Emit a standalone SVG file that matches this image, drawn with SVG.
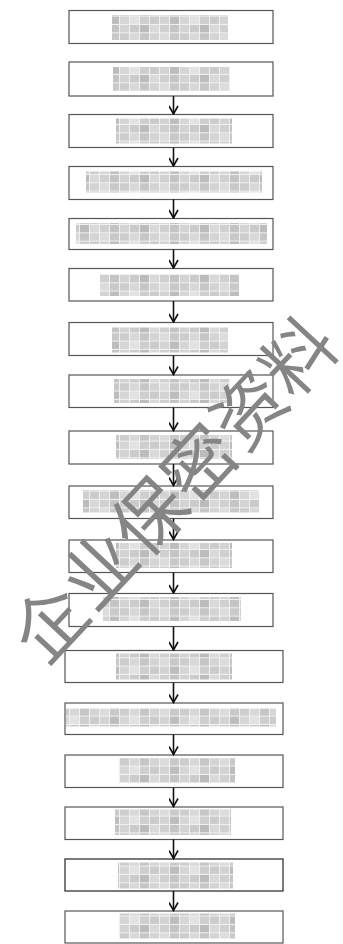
<svg xmlns="http://www.w3.org/2000/svg" width="343" height="944" viewBox="0 0 343 944">
<style>
.box{fill:#fff;stroke:#555;stroke-width:1.2}
.dark{stroke:#222}
.mz{fill:url(#mz)}
.arr{stroke:#111;stroke-width:1.6;fill:none}
.wm{font-family:"Noto Sans CJK SC","Noto Sans CJK JP",sans-serif;font-size:72px;fill:#858585;letter-spacing:1px}
</style>
<defs>
<pattern id="mz" patternUnits="userSpaceOnUse" width="60" height="25">
<rect width="60" height="25" fill="#f0f0f0"/>
<rect x="0" y="0" width="9" height="7.3" fill="#d3d3d3"/>
<rect x="10" y="0" width="9" height="7.3" fill="#cbcbcb"/>
<rect x="20" y="0" width="9" height="7.3" fill="#bcbcbc"/>
<rect x="30" y="0" width="9" height="7.3" fill="#d9d9d9"/>
<rect x="40" y="0" width="9" height="7.3" fill="#d0d0d0"/>
<rect x="50" y="0" width="9" height="7.3" fill="#c4c4c4"/>
<rect x="0" y="8.3" width="9" height="7.3" fill="#cdcdcd"/>
<rect x="10" y="8.3" width="9" height="7.3" fill="#d8d8d8"/>
<rect x="20" y="8.3" width="9" height="7.3" fill="#c6c6c6"/>
<rect x="30" y="8.3" width="9" height="7.3" fill="#d4d4d4"/>
<rect x="40" y="8.3" width="9" height="7.3" fill="#dcdcdc"/>
<rect x="50" y="8.3" width="9" height="7.3" fill="#c9c9c9"/>
<rect x="0" y="16.6" width="9" height="7.3" fill="#d6d6d6"/>
<rect x="10" y="16.6" width="9" height="7.3" fill="#e2e2e2"/>
<rect x="20" y="16.6" width="9" height="7.3" fill="#cecece"/>
<rect x="30" y="16.6" width="9" height="7.3" fill="#cbcbcb"/>
<rect x="40" y="16.6" width="9" height="7.3" fill="#d3d3d3"/>
<rect x="50" y="16.6" width="9" height="7.3" fill="#bdbdbd"/>
</pattern>
<marker id="ah" viewBox="0 0 10 10" refX="9" refY="5" markerWidth="10" markerHeight="10" markerUnits="userSpaceOnUse" orient="auto">
<path d="M1,0.5 L9,5 L1,9.5" fill="none" stroke="#111" stroke-width="1.6"/>
</marker>
</defs>
<rect width="343" height="944" fill="#fff"/>
<g id="nodes">
<g id="n1"><rect class="box" x="69" y="10.5" width="204" height="33"/><rect class="mz" x="112" y="15" width="116" height="25"/></g>
<g id="n2"><rect class="box" x="69" y="62" width="204" height="34"/><rect class="mz" x="113" y="67" width="117" height="24"/></g>
<g id="n3"><rect class="box" x="69" y="114.5" width="204" height="33"/><rect class="mz" x="116" y="118.5" width="116" height="25"/></g>
<g id="n4"><rect class="box" x="69" y="166.5" width="204" height="33"/><rect class="mz" x="86" y="171.5" width="176" height="21"/></g>
<g id="n5"><rect class="box" x="69" y="218.5" width="204" height="31"/><rect class="mz" x="76" y="223" width="191" height="21"/></g>
<g id="n6"><rect class="box" x="69" y="268.5" width="204" height="32.5"/><rect class="mz" x="100" y="274" width="139" height="22"/></g>
<g id="n7"><rect class="box" x="69" y="322.5" width="204" height="33"/><rect class="mz" x="112" y="327.5" width="116" height="25"/></g>
<g id="n8"><rect class="box" x="69" y="375" width="204" height="32.5"/><rect class="mz" x="114" y="379" width="116" height="24"/></g>
<g id="n9"><rect class="box" x="69" y="431" width="204" height="33"/><rect class="mz" x="116" y="435" width="116" height="24"/></g>
<g id="n10"><rect class="box" x="69" y="486" width="204" height="32.5"/><rect class="mz" x="83" y="490" width="176" height="22.5"/></g>
<g id="n11"><rect class="box" x="69" y="540" width="204" height="32.5"/><rect class="mz" x="116" y="543" width="116" height="25"/></g>
<g id="n12"><rect class="box" x="69" y="593.5" width="204" height="33"/><rect class="mz" x="103" y="597" width="138" height="24"/></g>
<g id="n13"><rect class="box" x="65" y="650.5" width="218" height="32"/><rect class="mz" x="116" y="653.5" width="116" height="26"/></g>
<g id="n14"><rect class="box" x="65" y="703" width="218" height="31.5"/><rect class="mz" x="66" y="708.5" width="210" height="18"/></g>
<g id="n15"><rect class="box" x="65" y="755" width="218" height="32.5"/><rect class="mz" x="119" y="758" width="116" height="25"/></g>
<g id="n16"><rect class="box" x="65" y="807" width="218" height="32.5"/><rect class="mz" x="115" y="809.5" width="116" height="25.5"/></g>
<g id="n17"><rect class="box dark" x="65" y="859" width="218" height="32"/><rect class="mz" x="118" y="862.5" width="115" height="26"/></g>
<g id="n18"><rect class="box" x="65" y="911" width="218" height="32"/><rect class="mz" x="119" y="913.5" width="116" height="25"/></g>
</g>
<g id="connectors">
<line class="arr" x1="173.5" y1="96" x2="173.5" y2="114" marker-end="url(#ah)"/>
<line class="arr" x1="173.5" y1="147.5" x2="173.5" y2="166" marker-end="url(#ah)"/>
<line class="arr" x1="173.5" y1="199.5" x2="173.5" y2="218" marker-end="url(#ah)"/>
<line class="arr" x1="173.5" y1="249.5" x2="173.5" y2="268" marker-end="url(#ah)"/>
<line class="arr" x1="173.5" y1="301" x2="173.5" y2="322" marker-end="url(#ah)"/>
<line class="arr" x1="173.5" y1="355.5" x2="173.5" y2="374.5" marker-end="url(#ah)"/>
<line class="arr" x1="173.5" y1="407.5" x2="173.5" y2="430.5" marker-end="url(#ah)"/>
<line class="arr" x1="173.5" y1="464" x2="173.5" y2="485.5" marker-end="url(#ah)"/>
<line class="arr" x1="173.5" y1="518.5" x2="173.5" y2="539.5" marker-end="url(#ah)"/>
<line class="arr" x1="173.5" y1="572.5" x2="173.5" y2="593" marker-end="url(#ah)"/>
<line class="arr" x1="173.5" y1="626.5" x2="173.5" y2="650" marker-end="url(#ah)"/>
<line class="arr" x1="173.5" y1="682.5" x2="173.5" y2="702.5" marker-end="url(#ah)"/>
<line class="arr" x1="173.5" y1="734.5" x2="173.5" y2="754.5" marker-end="url(#ah)"/>
<line class="arr" x1="173.5" y1="787.5" x2="173.5" y2="806.5" marker-end="url(#ah)"/>
<line class="arr" x1="173.5" y1="839.5" x2="173.5" y2="858.5" marker-end="url(#ah)"/>
<line class="arr" x1="173.5" y1="891" x2="173.5" y2="910.5" marker-end="url(#ah)"/>
</g>
<g id="watermark">
<text class="wm" x="171" y="486" text-anchor="middle" dominant-baseline="central" transform="rotate(-47 171 486)">企业保密资料</text>
</g>
</svg>
